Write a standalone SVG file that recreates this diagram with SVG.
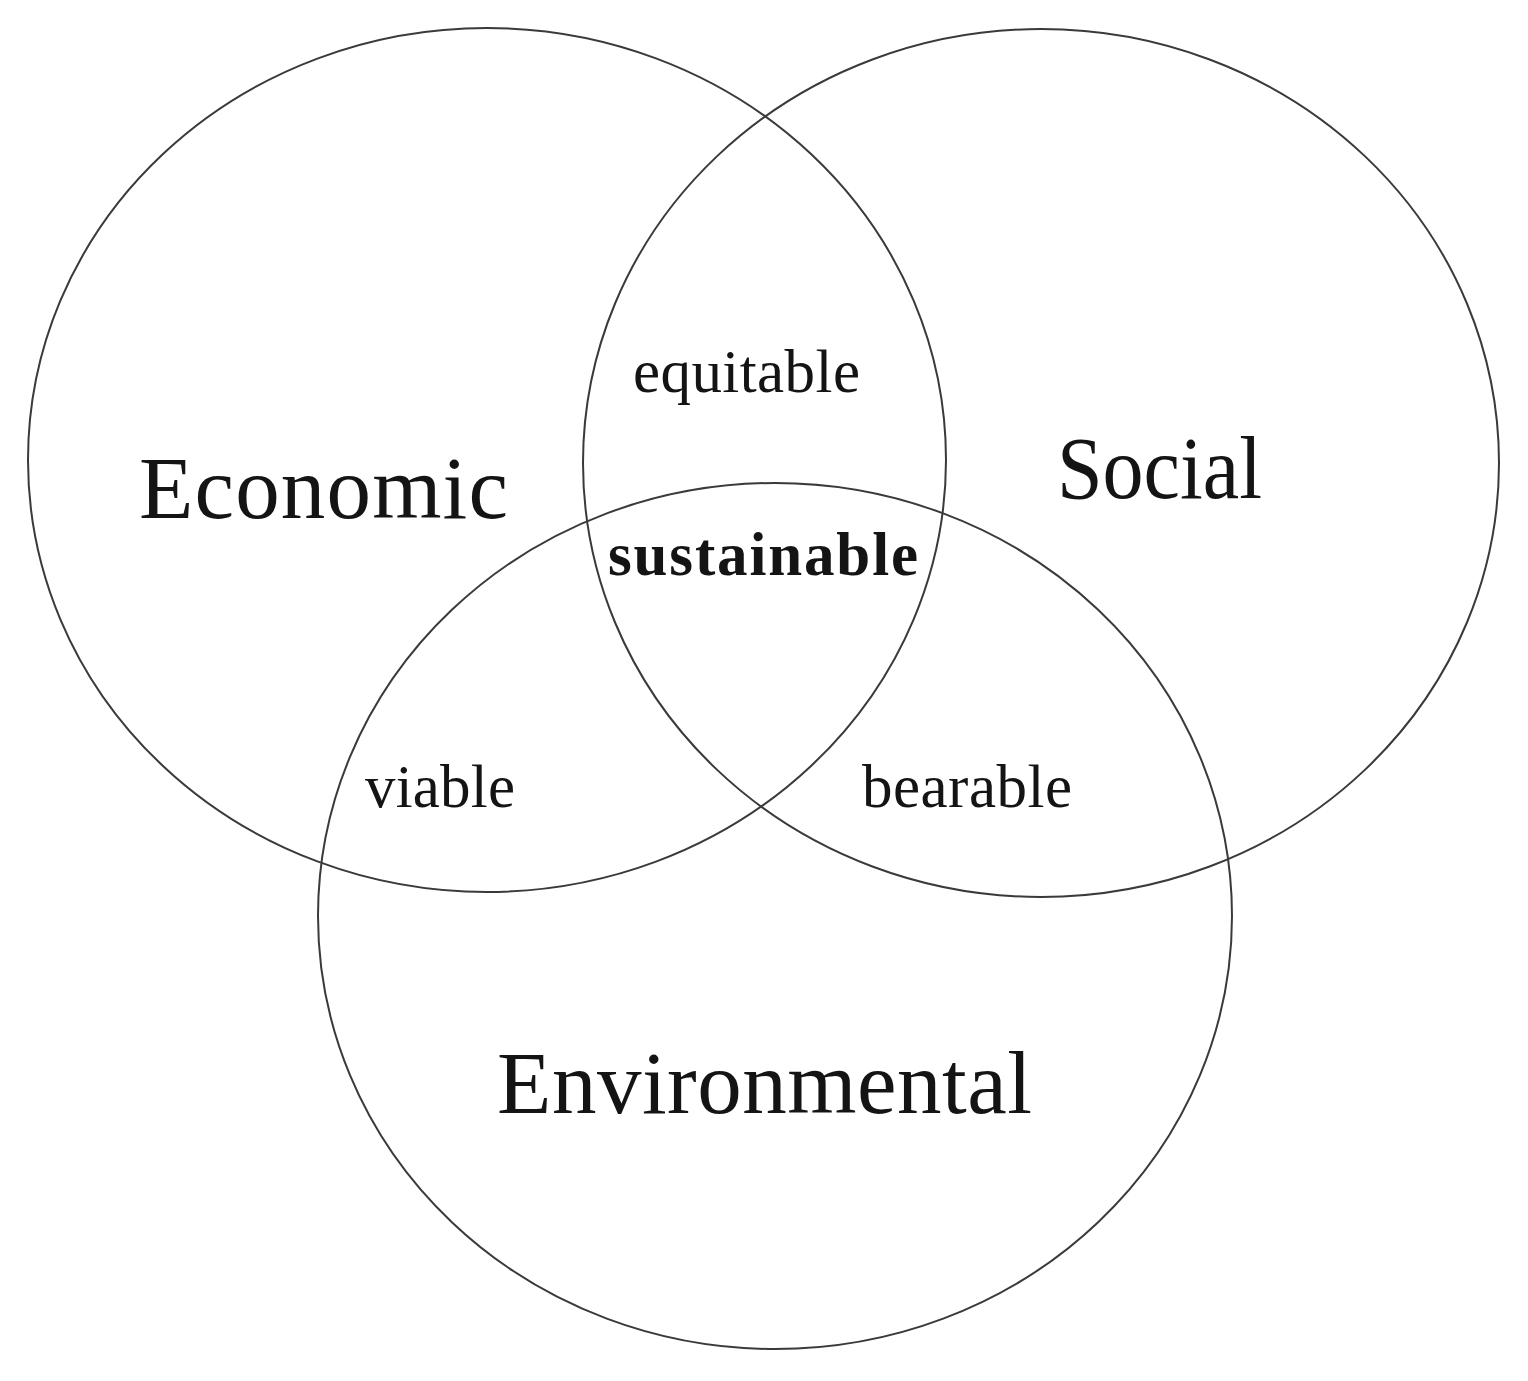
<svg xmlns="http://www.w3.org/2000/svg" width="1528" height="1381" viewBox="0 0 1528 1381">
  <style>
    .ring { fill: none; stroke: #3a3a3a; stroke-width: 2; }
    .big { font-family: "Liberation Serif", "Times New Roman", serif; font-size: 89px; fill: #141414; }
    .small { font-family: "Liberation Serif", "Times New Roman", serif; font-size: 61px; fill: #141414; }
    .bold { font-family: "Liberation Serif", "Times New Roman", serif; font-size: 61px; font-weight: bold; fill: #141414; }
  </style>
  <rect width="1528" height="1381" fill="#ffffff"/>
  <g id="economic">
    <ellipse class="ring" cx="487" cy="460" rx="459" ry="432"/>
    <text class="big" x="139" y="518" textLength="369">Economic</text>
  </g>
  <g id="social">
    <ellipse class="ring" cx="1041" cy="463" rx="458" ry="434"/>
    <text class="big" x="1057" y="498" textLength="205" lengthAdjust="spacingAndGlyphs">Social</text>
  </g>
  <g id="environmental">
    <ellipse class="ring" cx="775" cy="916" rx="457" ry="433"/>
    <text class="big" x="497" y="1113" textLength="535">Environmental</text>
  </g>
  <g id="equitable">
    <text class="small" x="633" y="392" textLength="227">equitable</text>
  </g>
  <g id="sustainable">
    <text class="bold" x="608" y="575" textLength="310">sustainable</text>
  </g>
  <g id="viable">
    <text class="small" x="365" y="807" textLength="150">viable</text>
  </g>
  <g id="bearable">
    <text class="small" x="862" y="807" textLength="210">bearable</text>
  </g>
  <g id="connectors"/>
</svg>
